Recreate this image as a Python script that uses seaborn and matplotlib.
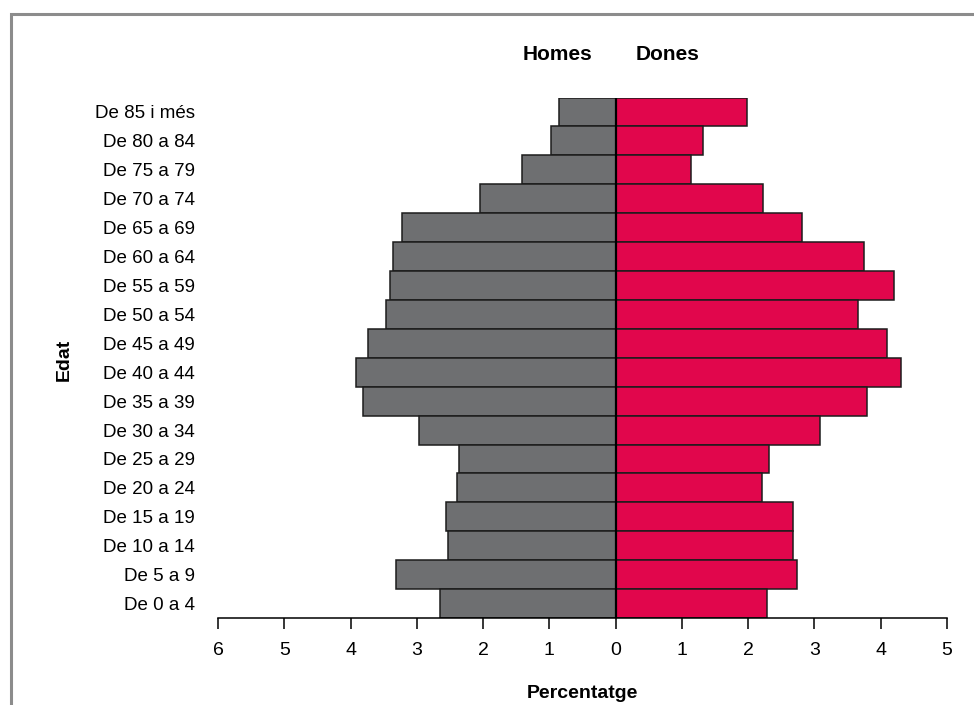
import matplotlib
matplotlib.use("Agg")
import matplotlib.pyplot as plt
import matplotlib.patches as mpatches
from matplotlib import font_manager
import seaborn as sns
import pandas as pd

# Age groups, oldest first (top of the pyramid)
age_groups = [
    "De 85 i més", "De 80 a 84", "De 75 a 79", "De 70 a 74", "De 65 a 69",
    "De 60 a 64", "De 55 a 59", "De 50 a 54", "De 45 a 49", "De 40 a 44",
    "De 35 a 39", "De 30 a 34", "De 25 a 29", "De 20 a 24", "De 15 a 19",
    "De 10 a 14", "De 5 a 9", "De 0 a 4",
]
# Share of population (%) per age group
homes = [0.85, 0.97, 1.41, 2.04, 3.23, 3.36, 3.41, 3.46, 3.74, 3.92,
         3.81, 2.96, 2.37, 2.40, 2.56, 2.53, 3.31, 2.65]
dones = [1.98, 1.32, 1.13, 2.22, 2.81, 3.75, 4.20, 3.66, 4.10, 4.31,
         3.80, 3.08, 2.32, 2.21, 2.67, 2.67, 2.74, 2.29]
x_ticks = [-6, -5, -4, -3, -2, -1, 0, 1, 2, 3, 4, 5]
x_tick_labels = ["6", "5", "4", "3", "2", "1", "0", "1", "2", "3", "4", "5"]

df = pd.DataFrame({"edat": age_groups,
                   "homes": [-v for v in homes],
                   "dones": dones})

sns.set_theme(style="white")
available = {f.name for f in font_manager.fontManager.ttflist}
family = "Liberation Sans" if "Liberation Sans" in available else "DejaVu Sans"
narrow = "Liberation Sans Narrow" if "Liberation Sans Narrow" in available else family
has_narrow = narrow != family
plt.rcParams["font.family"] = [family, "DejaVu Sans"]
plt.rcParams["text.color"] = "black"
plt.rcParams["xtick.color"] = "black"
plt.rcParams["ytick.color"] = "black"

lab_size = 16 if has_narrow else 13.5
tick_size = 16.5 if has_narrow else 14

fig = plt.figure(figsize=(9.74, 7.05), dpi=100)
fig.patch.set_facecolor("white")
W, H = 974, 705
ax = fig.add_axes([218 / W, 1 - 618 / H, (947 - 218) / W, (618 - 97.5) / H])

grey = "#6e6f71"
red = "#e1064c"
edge = "#1c1c1c"

sns.barplot(data=df, y="edat", x="homes", order=age_groups, orient="h",
            color=grey, width=1.0, edgecolor=edge, linewidth=1.1,
            saturation=1, ax=ax)
sns.barplot(data=df, y="edat", x="dones", order=age_groups, orient="h",
            color=red, width=1.0, edgecolor=edge, linewidth=1.1,
            saturation=1, ax=ax)

ax.set_xlim(-6, 5)
ax.set_ylim(len(age_groups) - 0.5, -0.5)
ax.axvline(0, color="black", lw=1.6, zorder=5)

ax.set_xticks(x_ticks)
ax.set_xticklabels(x_tick_labels, fontsize=tick_size, family=[narrow, "DejaVu Sans"])
ax.tick_params(axis="x", direction="out", length=8, width=1.1, color="black",
               pad=9, bottom=True, labelcolor="black")
ax.tick_params(axis="y", length=0, pad=16.5, labelcolor="black")
for lbl in ax.get_yticklabels():
    lbl.set_horizontalalignment("right")
    lbl.set_fontsize(lab_size)
    lbl.set_family([narrow, "DejaVu Sans"])

ax.set_xlabel("")
ax.set_ylabel("")
for side in ("top", "right", "left"):
    ax.spines[side].set_visible(False)
ax.spines["bottom"].set_color("black")
ax.spines["bottom"].set_linewidth(1.1)
ax.set_facecolor("white")

fig.text(557 / W, 1 - 55 / H, "Homes", ha="center", va="center",
         fontsize=15, fontweight="bold", color="black")
fig.text(668 / W, 1 - 55 / H, "Dones", ha="center", va="center",
         fontsize=15, fontweight="bold", color="black")
fig.text(64 / W, 1 - 360 / H, "Edat", ha="center", va="center",
         rotation=90, fontsize=14, fontweight="bold", color="black")
fig.text(582 / W, 1 - 694 / H, "Percentatge", ha="center", va="center",
         fontsize=14, fontweight="bold", color="black")

# Outer frame (open to the right and bottom edges)
frame = mpatches.Rectangle((11 / W, -0.1), 1.2, 1 - 14 / H + 0.1,
                           transform=fig.transFigure, fill=False,
                           edgecolor="#8c8c8c", linewidth=2.2, zorder=0)
fig.patches.append(frame)

fig.savefig("out.png", dpi=100, facecolor="white")
